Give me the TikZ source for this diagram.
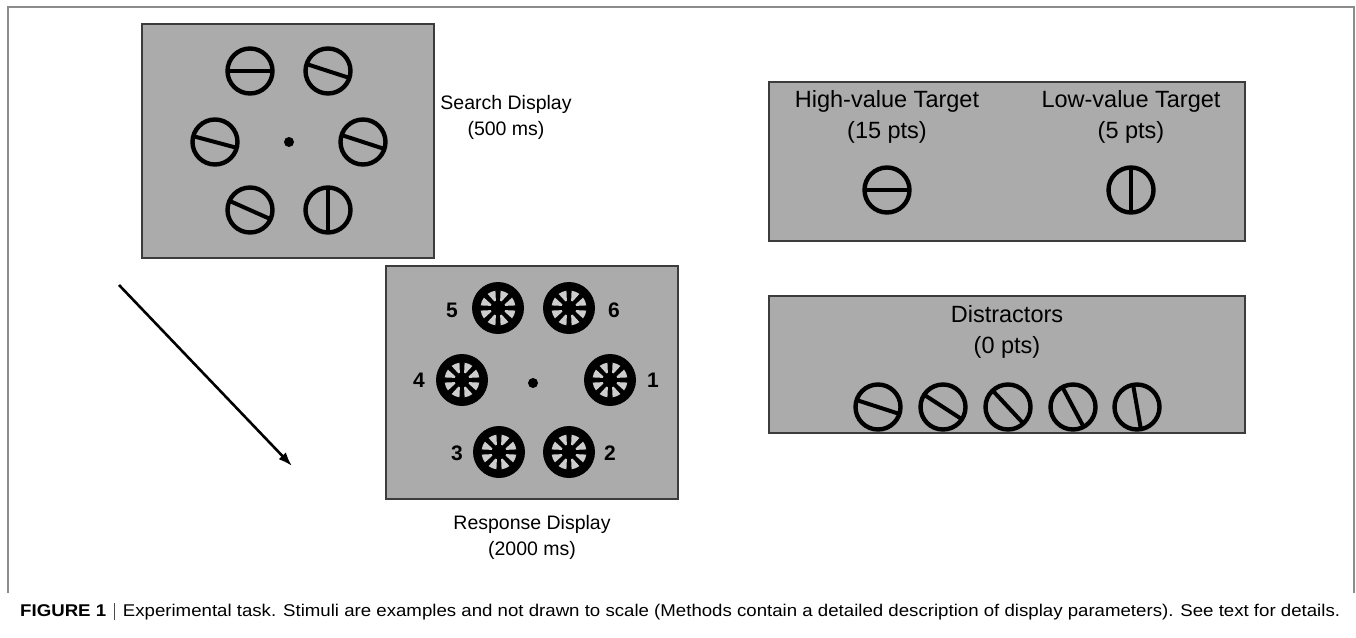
\documentclass[tikz,border=0pt]{standalone}
\usepackage{fontspec}
\setmainfont{Liberation Sans}
\usetikzlibrary{arrows.meta,calc}
\definecolor{dispgray}{RGB}{171,171,171}
\definecolor{edgegray}{RGB}{60,60,60}
\definecolor{framegray}{RGB}{140,140,140}
\definecolor{wedgegray}{RGB}{205,205,205}
\tikzset{
  disp/.style={draw=edgegray, fill=dispgray, line width=1.6pt, inner sep=0pt, outer sep=0pt},
  tgt/.style={circle, draw=black, line width=4.4pt, minimum size=45pt, inner sep=0pt, outer sep=0pt},
  bar/.style={black, line width=4pt},
  whl/.style={circle, fill=black, minimum size=52pt, inner sep=0pt, outer sep=0pt},
  lbl/.style={font=\fontsize{19.5}{26}\selectfont, align=center, inner sep=0pt},
  biglbl/.style={font=\fontsize{23.5}{31}\selectfont, align=center, inner sep=0pt},
  num/.style={font=\bfseries\fontsize{21}{21}\selectfont, inner sep=0pt},
  arr/.style={line width=2.6pt, -{Latex[length=14pt,width=10pt]}},
  frame/.style={draw=framegray, line width=1.4pt},
  fix/.style={circle, fill=black, minimum size=10pt, inner sep=0pt}
}
\newcommand{\wheelfill}[1]{%
  \foreach \k in {0,...,7}{
    \fill[wedgegray] ($(#1.center)+({22.5+45*\k-6}:7.5)$) -- ($(#1.center)+({22.5+45*\k-14}:17.5)$) arc[start angle={22.5+45*\k-14}, end angle={22.5+45*\k+14}, radius=17.5] -- ($(#1.center)+({22.5+45*\k+6}:7.5)$) -- cycle;
  }
}
\begin{document}
\begin{tikzpicture}[x=1pt,y=-1pt]
\useasboundingbox (0,0) rectangle (1356,637);
\fill[white] (0,0) rectangle (1356,637);
% outer frame
\coordinate (f1) at (8,593);
\coordinate (f2) at (8,7);
\coordinate (f3) at (1354,7);
\coordinate (f4) at (1354,593);
\draw[frame] (f1) -- (f2) -- (f3) -- (f4);

% search display
\node[disp, minimum width=292pt, minimum height=234pt] (search) at (288,141) {};
\node[fix] (sfix) at (289,142) {};
\node[tgt] (s1) at (250,71) {};
\node[tgt] (s2) at (328,71) {};
\node[tgt] (s3) at (215,142) {};
\node[tgt] (s4) at (363,142) {};
\node[tgt] (s5) at (250,210) {};
\node[tgt] (s6) at (328,210) {};
\draw[bar] (s1.0) -- (s1.180);
\draw[bar] (s2.-18) -- (s2.162);
\draw[bar] (s3.-15) -- (s3.165);
\draw[bar] (s4.-18) -- (s4.162);
\draw[bar] (s5.-24) -- (s5.156);
\draw[bar] (s6.90) -- (s6.270);
\node[lbl] (stext) at (506,117) {Search Display\\(500 ms)};

% response display
\node[disp, minimum width=292pt, minimum height=233pt] (resp) at (532,382.5) {};
\node[fix] (rfix) at (533,383) {};
\node[whl] (w5) at (498,308) {};
\node[whl] (w6) at (569,308) {};
\node[whl] (w4) at (462,380) {};
\node[whl] (w1) at (610,380) {};
\node[whl] (w3) at (499,452) {};
\node[whl] (w2) at (569,452) {};
\wheelfill{w1}\wheelfill{w2}\wheelfill{w3}\wheelfill{w4}\wheelfill{w5}\wheelfill{w6}
\node[num] (n5) at (452,310) {5};
\node[num] (n6) at (614,310) {6};
\node[num] (n4) at (419,380) {4};
\node[num] (n1) at (653,380) {1};
\node[num] (n3) at (457,453) {3};
\node[num] (n2) at (610,453) {2};
\node[lbl] (rtext) at (532,537) {Response Display\\(2000 ms)};

% arrow
\coordinate (a1) at (119,285);
\coordinate (a2) at (292,466);
\draw[arr] (a1) -- (a2);

% value box
\node[disp, minimum width=476pt, minimum height=159pt] (vbox) at (1007,161.5) {};
\node[biglbl] (hvt) at (887,117) {High-value Target\\(15 pts)};
\node[biglbl] (lvt) at (1131,117) {Low-value Target\\(5 pts)};
\node[tgt] (hv) at (887,190) {};
\node[tgt] (lv) at (1131,190) {};
\draw[bar] (hv.0) -- (hv.180);
\draw[bar] (lv.90) -- (lv.270);

% distractor box
\node[disp, minimum width=476pt, minimum height=137pt] (dbox) at (1007,364.5) {};
\node[biglbl] (dtext) at (1007,332) {Distractors\\(0 pts)};
\node[tgt] (d1) at (878,407) {};
\node[tgt] (d2) at (943,407) {};
\node[tgt] (d3) at (1008,407) {};
\node[tgt] (d4) at (1073,407) {};
\node[tgt] (d5) at (1137,407) {};
\draw[bar] (d1.-18) -- (d1.162);
\draw[bar] (d2.-33) -- (d2.147);
\draw[bar] (d3.-47) -- (d3.133);
\draw[bar] (d4.-62) -- (d4.118);
\draw[bar] (d5.-80) -- (d5.100);

% caption
\node[anchor=west, inner sep=0pt] (cap) at (20,612) {\resizebox{1320pt}{\height}{\fontsize{17}{17}\selectfont\textbf{FIGURE 1}\hspace{7pt}{\color{black!70}\rule[-3.5pt]{1.2pt}{17pt}}\hspace{7pt}Experimental task. Stimuli are examples and not drawn to scale (Methods contain a detailed description of display parameters). See text for details.}};
\end{tikzpicture}
\end{document}
